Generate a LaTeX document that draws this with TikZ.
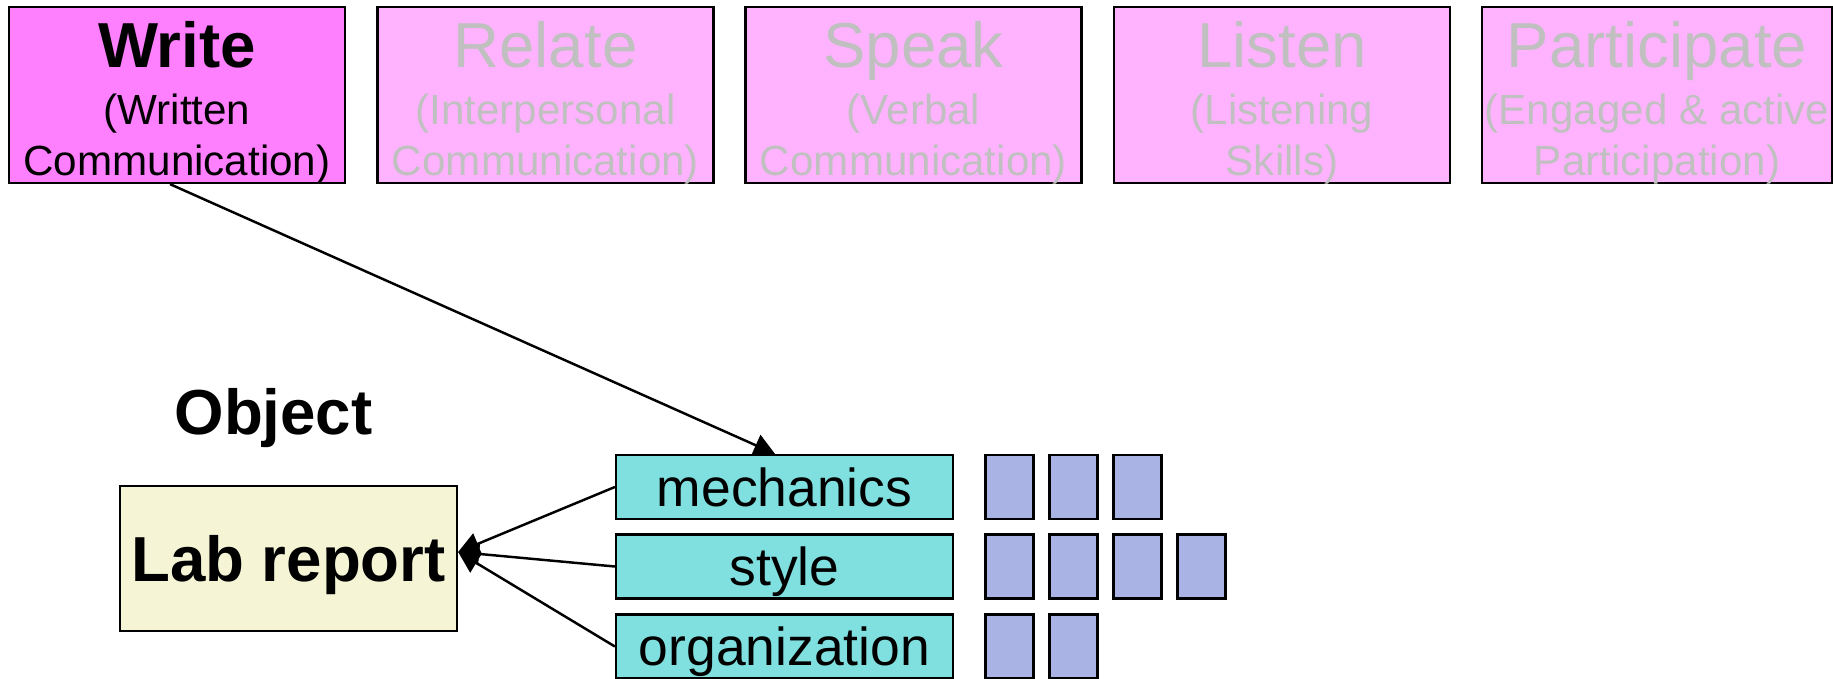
\documentclass[tikz,border=0pt]{standalone}
\usepackage{fontspec}
\setmainfont{Liberation Sans}
\usetikzlibrary{arrows.meta}

\definecolor{writepink}{RGB}{255,128,255}
\definecolor{softpink}{RGB}{255,179,255}
\definecolor{fadedtext}{RGB}{192,192,192}
\definecolor{labcream}{RGB}{245,245,214}
\definecolor{partcyan}{RGB}{128,224,224}
\definecolor{markblue}{RGB}{170,180,228}

\tikzset{
  topbox/.style={draw, line width=0.65pt, minimum width=3.36cm, minimum height=1.76cm, inner sep=0pt},
  toptext/.style={align=center, inner sep=0pt, anchor=base, font=\fontsize{12}{14.55}\selectfont},
  partbox/.style={draw, line width=0.65pt, fill=partcyan, minimum width=3.37cm, minimum height=0.64cm,
    inner sep=0pt, text depth=0pt, font=\fontsize{15.2}{15.2}\selectfont},
  markbox/.style={draw, line width=0.65pt, fill=markblue, minimum width=0.48cm, minimum height=0.64cm, inner sep=0pt},
  link/.style={line width=0.7pt, -{Triangle[length=6pt,width=6.4pt]}},
}

\begin{document}
\begin{tikzpicture}
  \useasboundingbox (0,0) rectangle (18.33,6.78);

  % the five skills along the top
  \node[topbox, fill=writepink] (write) at (1.77,5.83) {};
  \node[topbox, fill=softpink] (relate) at (5.455,5.83) {};
  \node[topbox, fill=softpink] (speak) at (9.135,5.83) {};
  \node[topbox, fill=softpink] (listen) at (12.82,5.83) {};
  \node[topbox, fill=softpink, minimum width=3.5cm] (participate) at (16.57,5.83) {};

  \node[toptext] (write-text) at (1.77,5.025)
    {{\fontsize{18.1}{18.1}\selectfont\bfseries Write}\\[1.7pt](Written\\Communication)};
  \node[toptext, text=fadedtext] (relate-text) at (5.455,5.025)
    {{\fontsize{18.1}{18.1}\selectfont Relate}\\[1.7pt](Interpersonal\\Communication)};
  \node[toptext, text=fadedtext] (speak-text) at (9.135,5.025)
    {{\fontsize{18.1}{18.1}\selectfont Speak}\\[1.7pt](Verbal\\Communication)};
  \node[toptext, text=fadedtext] (listen-text) at (12.82,5.025)
    {{\fontsize{18.1}{18.1}\selectfont Listen}\\[1.7pt](Listening\\Skills)};
  \node[toptext, text=fadedtext] (participate-text) at (16.57,5.025)
    {{\fontsize{18.1}{18.1}\selectfont Participate}\\[1.7pt](Engaged \& active\\Participation)};

  % object and its parts
  \node[anchor=base, inner sep=0pt, font=\fontsize{18.1}{18.1}\selectfont\bfseries] (object) at (2.735,2.44) {Object};
  \node[draw, line width=0.65pt, fill=labcream, minimum width=3.37cm, minimum height=1.45cm, inner sep=0pt,
    text depth=0pt, font=\fontsize{18.1}{18.1}\selectfont\bfseries] (lab) at (2.885,1.195) {Lab report};

  \node[partbox] (mech) at (7.845,1.91) {mechanics};
  \node[partbox] (style) at (7.845,1.115) {style};
  \node[partbox] (org) at (7.845,0.315) {organization};

  \node[markbox] (m1) at (10.095,1.91) {};
  \node[markbox] (m2) at (10.735,1.91) {};
  \node[markbox] (m3) at (11.375,1.91) {};

  \node[markbox] (s1) at (10.095,1.115) {};
  \node[markbox] (s2) at (10.735,1.115) {};
  \node[markbox] (s3) at (11.375,1.115) {};
  \node[markbox] (s4) at (12.015,1.115) {};

  \node[markbox] (o1) at (10.095,0.315) {};
  \node[markbox] (o2) at (10.735,0.315) {};

  % connectors
  \draw[link] ([xshift=-0.07cm]write.south) -- ([xshift=-0.095cm]mech.north);

  \coordinate (lab-tip) at ([yshift=0.065cm]lab.east);
  \draw[link] (mech.west) -- (lab-tip);
  \draw[link] (style.west) -- (lab-tip);
  \draw[link] (org.west) -- (lab-tip);
\end{tikzpicture}
\end{document}
